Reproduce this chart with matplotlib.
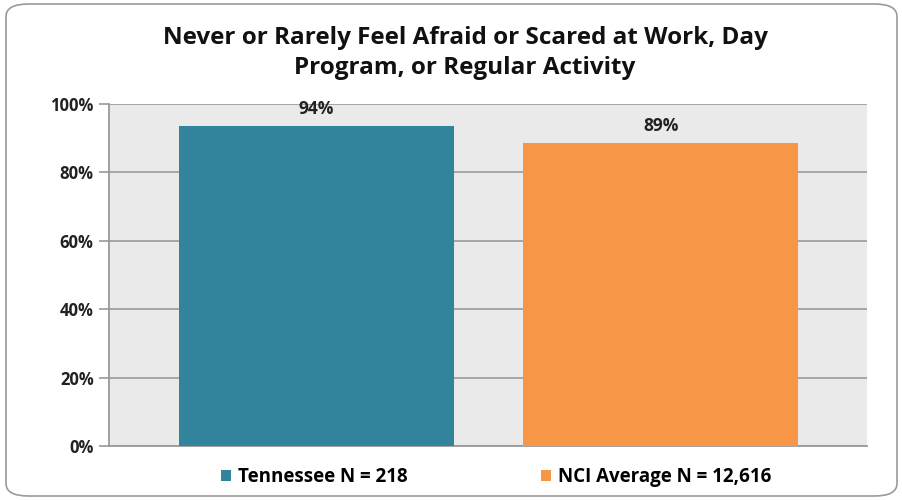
import matplotlib
matplotlib.use("Agg")
import matplotlib.pyplot as plt
from matplotlib.patches import FancyBboxPatch, Patch
from matplotlib.ticker import FixedLocator

categories = ["Tennessee N = 218", "NCI Average N = 12,616"]
values = [93.6, 88.6]
colors = ["#31849B", "#F79646"]
yticks = [0, 20, 40, 60, 80, 100]
ytick_labels = ["0%", "20%", "40%", "60%", "80%", "100%"]
title = "Never or Rarely Feel Afraid or Scared at Work, Day\nProgram, or Regular Activity"

plt.rcParams['font.family'] = ['Open Sans', 'DejaVu Sans']

W, H = 903, 500
fig = plt.figure(figsize=(W/100, H/100), dpi=100)

# rounded border
border = FancyBboxPatch((6/W, 4/H), 891/W, 492/H,
                        boxstyle="round,pad=0,rounding_size=0.025",
                        transform=fig.transFigure, facecolor="white",
                        edgecolor="#9A9A9A", linewidth=1.2, zorder=-5)
fig.patches.append(border)

left, right, top, bottom = 109, 867, 104, 446
ax = fig.add_axes([left/W, 1-bottom/H, (right-left)/W, (bottom-top)/H])
ax.set_zorder(2)
ax.set_facecolor("#EAEAEA")

x = list(range(len(categories)))
bars = ax.bar(x, values, width=0.798, color=colors, zorder=3)
ax.set_xlim(-0.602, 1.598)
ax.set_ylim(0, 100)

ax.yaxis.set_major_locator(FixedLocator(yticks))
ax.set_yticklabels(ytick_labels, fontsize=12, fontweight='bold', color="#222222")
ax.grid(axis='y', color="#A0A0A0", linewidth=1.3, zorder=1)
ax.set_xticks([])
ax.tick_params(axis='y', length=7, width=1.2, color="#9A9A9A", pad=4)
for s in ['top', 'right']:
    ax.spines[s].set_visible(False)
for s in ['left', 'bottom']:
    ax.spines[s].set_color("#9A9A9A")
    ax.spines[s].set_linewidth(1.3)

for b, v in zip(bars, values):
    ax.annotate(f"{round(v)}%", (b.get_x() + b.get_width()/2, v),
                xytext=(0, 6), textcoords="offset points", ha='center', va='bottom',
                fontsize=12.5, fontweight='bold', color="#222222")

fig.text(465/W, 1-53/H, title, ha='center', va='center', fontsize=17.5,
         fontweight='bold', color="#111111", linespacing=1.38)

handles = [Patch(facecolor=c, edgecolor='none') for c in colors]
fig.legend(handles, categories, loc='center', bbox_to_anchor=(496/W, 1-477/H),
           ncol=2, frameon=False, prop={'weight': 'bold', 'size': 13.5},
           handlelength=0.55, handleheight=0.55, handletextpad=0.35, columnspacing=7.1)

fig.savefig("out.png", dpi=100)
